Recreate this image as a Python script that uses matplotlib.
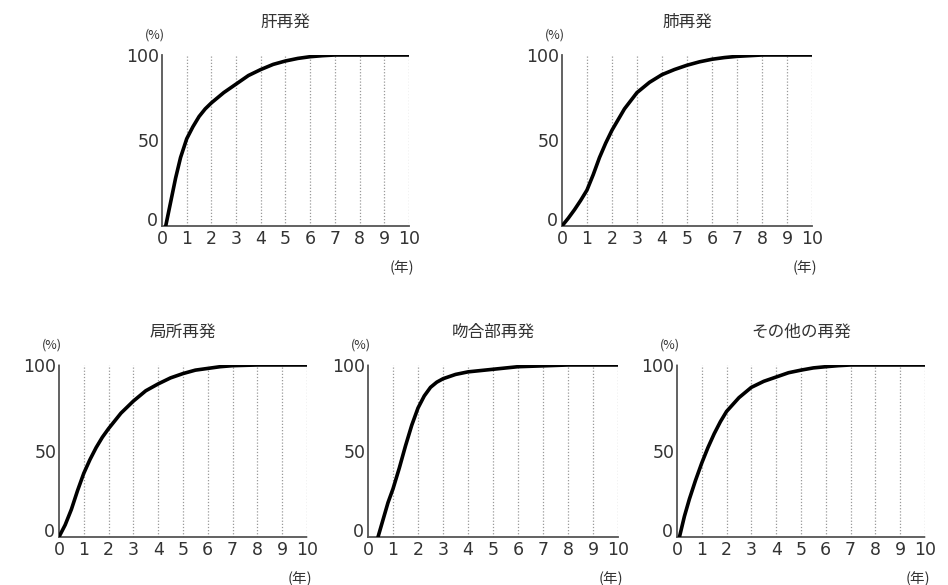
import matplotlib.pyplot as plt
from matplotlib.transforms import ScaledTranslation

plt.rcParams['font.family'] = ['Noto Sans CJK JP', 'DejaVu Sans']

# data (cumulative recurrence, %)
titles = ["肝再発", "肺再発", "局所再発", "吻合部再発", "その他の再発"]

liver_x = [0.15, 0.35, 0.55, 0.75, 1, 1.25, 1.5, 1.75, 2, 2.5, 3, 3.5, 4, 4.5, 5, 5.5, 6, 6.5, 7, 8, 9, 10]
liver_y = [0, 14, 28, 40, 51, 58, 64, 68.5, 72, 78, 83, 88, 91.5, 94.5, 96.5, 98, 99, 99.6, 100, 100, 100, 100]

lung_x = [0, 0.25, 0.5, 0.75, 1, 1.25, 1.5, 1.75, 2, 2.5, 3, 3.5, 4, 4.5, 5, 5.5, 6, 6.5, 7, 8, 9, 10]
lung_y = [0, 4.5, 9.5, 15, 21, 30, 40, 48.5, 56, 68.5, 78, 84, 88.5, 91.5, 94, 96, 97.5, 98.5, 99.2, 100, 100, 100]

local_x = [0, 0.25, 0.5, 0.75, 1, 1.25, 1.5, 1.75, 2, 2.5, 3, 3.5, 4, 4.5, 5, 5.5, 6, 6.5, 7, 8, 9, 10]
local_y = [0, 7, 16, 27, 37, 45, 52, 58, 63, 72, 79, 85, 89, 92.5, 95, 97, 98, 99, 99.6, 100, 100, 100]

anast_x = [0.4, 0.6, 0.8, 1, 1.25, 1.5, 1.75, 2, 2.25, 2.5, 2.75, 3, 3.5, 4, 5, 6, 7, 8, 9, 10]
anast_y = [0, 10, 20, 28, 40, 53, 65, 75, 82, 87, 90, 92, 94.5, 96, 97.5, 99, 99.5, 100, 100, 100]

other_x = [0.1, 0.3, 0.5, 0.75, 1, 1.25, 1.5, 1.75, 2, 2.5, 3, 3.5, 4, 4.5, 5, 5.5, 6, 6.5, 7, 8, 9, 10]
other_y = [0, 12, 22, 33, 43, 52, 60, 67, 73, 81, 87, 90.5, 93, 95.5, 97, 98.3, 99, 99.6, 100, 100, 100, 100]

series = [(liver_x, liver_y), (lung_x, lung_y), (local_x, local_y),
          (anast_x, anast_y), (other_x, other_y)]

x_ticks = list(range(0, 11))
y_ticks = [0, 50, 100]

# axes boxes [left, bottom, width, height] in figure fractions
boxes = [
    [0.1709, 0.6137, 0.2605, 0.2923],
    [0.5928, 0.6137, 0.2637, 0.2923],
    [0.0622, 0.0821, 0.2616, 0.2940],
    [0.3882, 0.0821, 0.2637, 0.2940],
    [0.7141, 0.0821, 0.2616, 0.2940],
]

fig = plt.figure(figsize=(9.48, 5.85), dpi=100)
nudge_up = ScaledTranslation(-1 / 72, 5 / 72, fig.dpi_scale_trans)

for box, title, (xs, ys) in zip(boxes, titles, series):
    ax = fig.add_axes(box)
    for x in x_ticks[1:]:
        ax.axvline(x, color='#999999', lw=0.9, ls=(0, (1, 1.5)), zorder=1)
    ax.plot(xs, ys, color='black', lw=2.6, zorder=3,
            solid_capstyle='round', solid_joinstyle='round')
    ax.set_xlim(0, 10)
    ax.set_ylim(0, 100)
    ax.set_xticks(x_ticks)
    ax.set_yticks(y_ticks)
    ax.tick_params(length=0, labelsize=12.5, colors='#333333')
    ax.tick_params(axis='x', pad=3)
    ax.tick_params(axis='y', pad=2)
    for lbl in ax.get_xticklabels() + ax.get_yticklabels():
        lbl.set_family('DejaVu Sans')
    # lift the y "0" off the x "0", as in the original
    zero = ax.get_yticklabels()[0]
    zero.set_transform(zero.get_transform() + nudge_up)
    for s in ['top', 'right']:
        ax.spines[s].set_visible(False)
    for s in ['left', 'bottom']:
        ax.spines[s].set_linestyle((0, (1, 1)))
        ax.spines[s].set_color('#555555')
        ax.spines[s].set_linewidth(1.3)
    ax.set_title(title, fontsize=12, color='#333333', pad=20)
    ax.text(-0.03, 1.08, "(%)", transform=ax.transAxes, fontsize=9,
            color='#333333', ha='center', va='bottom')
    ax.text(0.97, -0.2, "(年)", transform=ax.transAxes, fontsize=10.5,
            color='#333333', ha='center', va='top')

fig.savefig('out.png', dpi=100, facecolor='white')
